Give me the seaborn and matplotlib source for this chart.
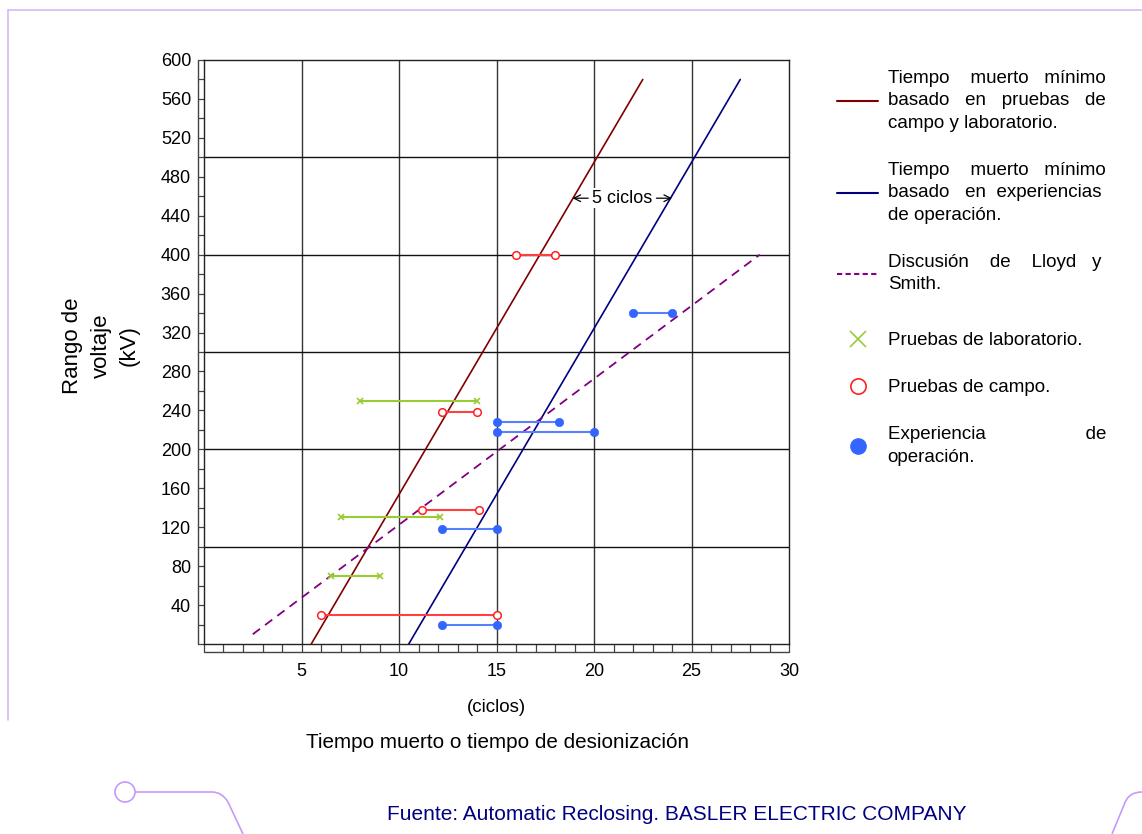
import numpy as np
import pandas as pd
import seaborn as sns
import matplotlib
matplotlib.use("Agg")
import matplotlib.pyplot as plt
from matplotlib.lines import Line2D
from matplotlib.patches import Ellipse, PathPatch
from matplotlib.path import Path
from matplotlib.transforms import offset_copy
from matplotlib.font_manager import FontProperties

# ---------------- data ----------------
# reference lines (x in cycles, y in kV)
red_line_x = [5.5, 22.5]
red_line_y = [0, 580]
blue_line_x = [10.5, 27.5]
blue_line_y = [0, 580]
lloyd_x = [2.5, 28.5]
lloyd_y = [10, 400]

# laboratory tests: (x_start, x_end, kV)
lab_x0 = [8.0, 7.0, 6.5]
lab_x1 = [14.0, 12.1, 9.0]
lab_y = [250, 130, 70]

# field tests
field_x0 = [16.0, 12.2, 11.2, 6.0]
field_x1 = [18.0, 14.0, 14.1, 15.0]
field_y = [400, 238, 138, 30]

# operating experience
oper_x0 = [22.0, 15.0, 15.0, 12.2, 12.2]
oper_x1 = [24.0, 18.2, 20.0, 15.0, 15.0]
oper_y = [340, 228, 218, 118, 20]

# "5 ciclos" annotation (kV level and line crossings in cycles)
gap_y = 458
gap_x_red = 18.9
gap_x_blue = 24.0

x_ticks = [5, 10, 15, 20, 25, 30]
y_ticks = list(range(40, 601, 40))
x_grid = [5, 10, 15, 20, 25]
y_grid = [100, 200, 300, 400, 500]

line_labels = [
    "Tiempo muerto mínimo\nbasado en pruebas de\ncampo y laboratorio.",
    "Tiempo muerto mínimo\nbasado en experiencias\nde operación.",
    "Discusión de Lloyd y\nSmith.",
]
point_labels = [
    "Pruebas de laboratorio.",
    "Pruebas de campo.",
    "Experiencia de\noperación.",
]

# ---------------- style ----------------
sns.set_theme(style="white", rc={"text.color": "black", "xtick.color": "black",
                                 "ytick.color": "black", "axes.labelcolor": "black"})
plt.rcParams["font.family"] = ["Liberation Sans", "DejaVu Sans"]

W, H = 1142, 834
fig = plt.figure(figsize=(W / 100, H / 100), dpi=100)
L, R, T, B = 204, 789, 60, 644
ax = fig.add_axes([L / W, 1 - B / H, (R - L) / W, (B - T) / H])

C_RED = "#800000"
C_BLUE = "#000080"
C_PURP = "#800080"
C_GREEN = "#99cc33"
C_FIELD = "#ff2020"
C_OPER = "#3366ff"

# grid lines
for gx in x_grid:
    ax.axvline(gx, color="#333333", lw=1.0, zorder=1)
for gy in y_grid:
    ax.axhline(gy, color="#111111", lw=1.0, zorder=1)

def seg_df(x, y):
    return pd.DataFrame({"x": x, "y": y})

sns.lineplot(data=seg_df(red_line_x, red_line_y), x="x", y="y", ax=ax,
             color=C_RED, lw=1.2, zorder=3)
sns.lineplot(data=seg_df(blue_line_x, blue_line_y), x="x", y="y", ax=ax,
             color=C_BLUE, lw=1.2, zorder=3)
sns.lineplot(data=seg_df(lloyd_x, lloyd_y), x="x", y="y", ax=ax,
             color=C_PURP, lw=1.3, zorder=3, linestyle=(0, (5, 3.5)))

def seg_frame(x0, x1, y):
    rows = []
    for i, (a, b, v) in enumerate(zip(x0, x1, y)):
        rows.append({"seg": i, "x": a, "y": v})
        rows.append({"seg": i, "x": b, "y": v})
    return pd.DataFrame(rows)

sns.lineplot(data=seg_frame(lab_x0, lab_x1, lab_y), x="x", y="y", units="seg",
             estimator=None, ax=ax, color=C_GREEN, lw=1.5, marker="x",
             markersize=5, markeredgewidth=1.2, markeredgecolor=C_GREEN, zorder=4)
sns.lineplot(data=seg_frame(field_x0, field_x1, field_y), x="x", y="y", units="seg",
             estimator=None, ax=ax, color="#ff4040", lw=1.5, marker="o",
             markersize=5.5, markerfacecolor="white", markeredgecolor=C_FIELD,
             markeredgewidth=1.1, zorder=4)
sns.lineplot(data=seg_frame(oper_x0, oper_x1, oper_y), x="x", y="y", units="seg",
             estimator=None, ax=ax, color="#5580ff", lw=1.5, marker="o",
             markersize=6, markerfacecolor=C_OPER, markeredgecolor=C_OPER,
             markeredgewidth=0.5, zorder=4)

# annotation "5 ciclos"
mid = (gap_x_red + gap_x_blue) / 2
ax.text(mid, gap_y, "5 ciclos", ha="center", va="center", fontsize=13,
        color="black", zorder=5,
        bbox=dict(facecolor="white", edgecolor="none", pad=1.0))
ax.annotate("", xy=(gap_x_red, gap_y), xytext=(gap_x_red + 0.8, gap_y),
            arrowprops=dict(arrowstyle="->", color="black", lw=0.9,
                            shrinkA=0, shrinkB=0), zorder=5)
ax.annotate("", xy=(gap_x_blue, gap_y), xytext=(gap_x_blue - 0.8, gap_y),
            arrowprops=dict(arrowstyle="->", color="black", lw=0.9,
                            shrinkA=0, shrinkB=0), zorder=5)

# axes limits / ticks
ax.set_xlim(0, 30)
ax.set_ylim(0, 600)
ax.set_xticks(x_ticks)
ax.set_xticklabels([str(v) for v in x_ticks])
ax.set_yticks(y_ticks)
ax.set_yticklabels([str(v) for v in y_ticks])
ax.xaxis.set_minor_locator(matplotlib.ticker.MultipleLocator(1))
ax.yaxis.set_minor_locator(matplotlib.ticker.MultipleLocator(20))
ax.tick_params(axis="x", which="both", direction="out", length=5.8, width=0.9,
               color="#444444", labelcolor="black", labelsize=13, pad=8, bottom=True)
ax.tick_params(axis="y", which="both", direction="out", length=4.3, width=0.9,
               color="#444444", labelcolor="black", labelsize=13, pad=5, left=True)
ax.set_xlabel("")
ax.set_ylabel("")
for s in ax.spines.values():
    s.set_color("#222222")
    s.set_linewidth(1.0)

# ruler outer lines
tb = offset_copy(ax.transAxes, fig=fig, y=-8, units="dots")
ax.plot([0, 1], [0, 0], transform=tb, clip_on=False, color="#444444", lw=1.0)
tl = offset_copy(ax.transAxes, fig=fig, x=-6, units="dots")
ax.plot([0, 0], [0, 1], transform=tl, clip_on=False, color="#444444", lw=1.0)

# axis titles
fig.text(496 / W, 1 - 708 / H, "(ciclos)", ha="center", va="center", fontsize=13.5)
fig.text(497 / W, 1 - 743 / H, "Tiempo muerto o tiempo de desionización",
         ha="center", va="center", fontsize=14.9)
fig.text(101 / W, 1 - 346 / H, "Rango de\nvoltaje\n(kV)", ha="center", va="center",
         rotation=90, fontsize=16, multialignment="center", linespacing=1.45)

# legend with justified text (as in the reference)
LEG_FS = 13.5
renderer = fig.canvas.get_renderer()
prop = FontProperties(family=["Liberation Sans", "DejaVu Sans"], size=LEG_FS)

def text_w(s):
    w, _, _ = renderer.get_text_width_height_descent(s, prop, ismath=False)
    return w

space_w = text_w("a a") - text_w("aa")
target_w = 216.0

def justify(label):
    lines = label.split("\n")
    out = []
    for i, line in enumerate(lines):
        words = line.split(" ")
        last = i == len(lines) - 1
        if last or len(words) < 2:
            out.append(line)
            continue
        extra = max(0.0, target_w - text_w(line))
        n_extra = int(round(extra / space_w))
        gaps = len(words) - 1
        counts = [1 + n_extra // gaps + (1 if k < n_extra % gaps else 0) for k in range(gaps)]
        s = words[0]
        for k in range(gaps):
            s += " " * counts[k] + words[k + 1]
        out.append(s)
    return "\n".join(out)

line_handles = [
    Line2D([], [], color=C_RED, lw=1.5),
    Line2D([], [], color=C_BLUE, lw=1.5),
    Line2D([], [], color=C_PURP, lw=1.5, linestyle=(0, (2.5, 1.6))),
]
point_handles = [
    Line2D([], [], color=C_GREEN, lw=0, marker="x", markersize=11, markeredgewidth=1.2),
    Line2D([], [], color=C_FIELD, lw=0, marker="o", markersize=11,
           markerfacecolor="white", markeredgewidth=1.2),
    Line2D([], [], color=C_OPER, lw=0, marker="o", markersize=11),
]
common = dict(loc="upper left", frameon=False, fontsize=LEG_FS, labelspacing=1.6,
              handlelength=2.2, handletextpad=0.5, borderaxespad=0, borderpad=0)
leg1 = fig.legend(line_handles, [justify(s) for s in line_labels],
                  bbox_to_anchor=(837 / W, 1 - 70 / H), **common)
leg2 = fig.legend(point_handles, [justify(s) for s in point_labels],
                  bbox_to_anchor=(837 / W, 1 - 332 / H), **common)
for leg in (leg1, leg2):
    for t in leg.get_texts():
        t.set_linespacing(1.42)
        t.set_color("black")

# footer
fig.text(677 / W, 1 - 815 / H, "Fuente: Automatic Reclosing. BASLER ELECTRIC COMPANY",
         ha="center", va="center", fontsize=15, color="#000080")

# decorative frame (pixel coordinates)
C_DEC = "#c79af7"
def px(x, y):
    return (x / W, 1 - y / H)

fig.add_artist(Line2D([8 / W, 8 / W], [1 - 10 / H, 1 - 720 / H], color="#d6b8f7", lw=1.2,
                      transform=fig.transFigure))
fig.add_artist(Line2D([8 / W, 1.0], [1 - 10 / H, 1 - 10 / H], color="#d6b8f7", lw=1.2,
                      transform=fig.transFigure))
fig.add_artist(Ellipse(px(125, 792), 20 / W, 20 / H, transform=fig.transFigure,
                       fill=False, edgecolor=C_DEC, lw=1.2))
pth = Path([px(135, 792), px(212, 792), px(222, 792), px(228, 802), px(243, 834)],
           [Path.MOVETO, Path.LINETO, Path.CURVE3, Path.CURVE3, Path.LINETO])
fig.add_artist(PathPatch(pth, fill=False, edgecolor=C_DEC, lw=1.2, transform=fig.transFigure))
pth2 = Path([px(1142, 792), px(1128, 792), px(1124, 805), px(1112, 834)],
            [Path.MOVETO, Path.CURVE3, Path.CURVE3, Path.LINETO])
fig.add_artist(PathPatch(pth2, fill=False, edgecolor=C_DEC, lw=1.2, transform=fig.transFigure))

fig.savefig("out.png", dpi=100, facecolor="white")
